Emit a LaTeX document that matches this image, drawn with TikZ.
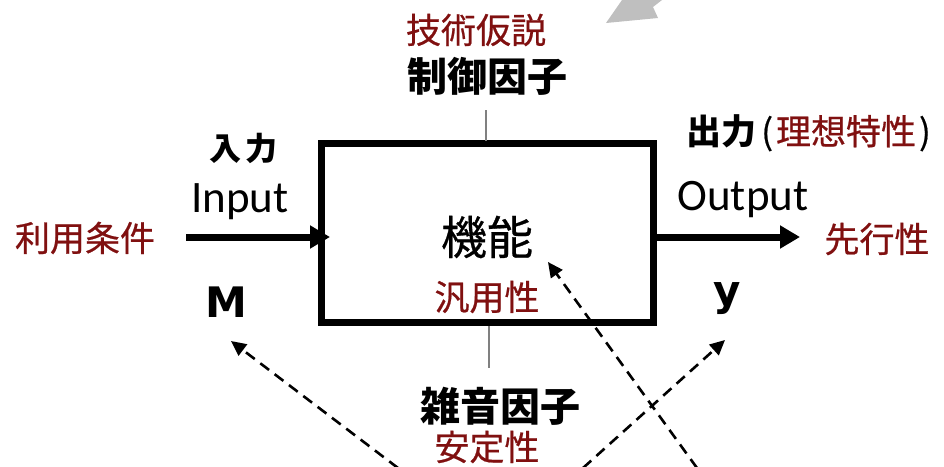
\documentclass[tikz,border=0pt]{standalone}
\usepackage{fontspec}
\setmainfont{Carlito}
\newfontfamily\jp[FakeBold=0.6]{Noto Sans CJK JP}
\newfontfamily\jpb{Noto Sans CJK JP}
\newfontfamily\dvb{DejaVu Sans}
\usetikzlibrary{arrows.meta}
\definecolor{dred}{RGB}{128,16,16}
\begin{document}
\begin{tikzpicture}[x=1pt,y=-1pt,
  lbl/.style={inner sep=0pt,anchor=center},
  red/.style={lbl,text=dred,font=\jp\fontsize{35}{40}\selectfont},
  blk/.style={lbl,font=\jpb\bfseries\fontsize{40}{44}\selectfont},
  lat/.style={lbl,font=\fontsize{45}{50}\selectfont},
  var/.style={inner sep=0pt,anchor=base,font=\dvb\bfseries\fontsize{42}{46}\selectfont},
  big/.style={-{Triangle[length=20pt,width=22pt]},line width=7pt},
  dsh/.style={-{Triangle[length=15pt,width=14pt]},line width=2.6pt,dash pattern=on 11pt off 7pt},
  tick/.style={draw=gray,line width=1.5pt}]
\useasboundingbox (0,0) rectangle (944,466);
\fill[gray!50] (606,23) -- (622,0) -- (662,0) -- (653,7) -- (658,18) -- cycle;
\node[draw,line width=7pt,minimum width=332pt,minimum height=179pt,inner sep=0pt] (box) at (487.5,233) {};
\node[lbl,font=\jp\fontsize{46}{50}\selectfont] (func) at (487,237) {機能};
\node[red] (hanyo) at (487,297) {汎用性};
\node[red] (gijutsu) at (476,30) {技術仮説};
\node[blk] (seigyo) at (487,76) {制御因子};
\node[blk] (zatsuon) at (500,406) {雑音因子};
\node[red] (antei) at (487,447) {安定性};
\node[lbl,font=\jpb\bfseries\fontsize{32}{36}\selectfont] (nyu) at (243,148) {入\hspace{4pt}力};
\node[lat] (inp) at (240,202) {Input};
\node[red] (riyo) at (85,238) {利用条件};
\node[var] (M) at (226.5,317) {M};
\node[lat] (outp) at (743,200) {Output};
\node[lbl,anchor=west,font=\jp\fontsize{35}{40}\selectfont] (shutsu) at (686,133) {{\jpb\bfseries 出力}\hspace{5pt}(\hspace{3pt}\textcolor{dred}{理想特性}\hspace{3pt})};
\node[red] (senko) at (877,239) {先行性};
\node[var] (y) at (727.5,305) {y};
\coordinate (inS) at (186,237);
\coordinate (inE) at (330,237);
\coordinate (outS) at (653,237);
\coordinate (outE) at (800,237);
\draw[big] (inS) -- (inE);
\draw[big] (outS) -- (outE);
\coordinate (t1) at (486,110); \coordinate (t1b) at (486,141);
\coordinate (t2) at (489,326); \coordinate (t2b) at (489,368);
\draw[tick] (t1) -- (t1b);
\draw[tick] (t2) -- (t2b);
\coordinate (d1s) at (398,468); \coordinate (d1e) at (231,341);
\coordinate (d2s) at (583,468); \coordinate (d2e) at (725,340);
\coordinate (d3s) at (697,468); \coordinate (d3e) at (548,262);
\draw[dsh] (d1s) -- (d1e);
\draw[dsh] (d2s) -- (d2e);
\draw[dsh] (d3s) -- (d3e);
\end{tikzpicture}
\end{document}
